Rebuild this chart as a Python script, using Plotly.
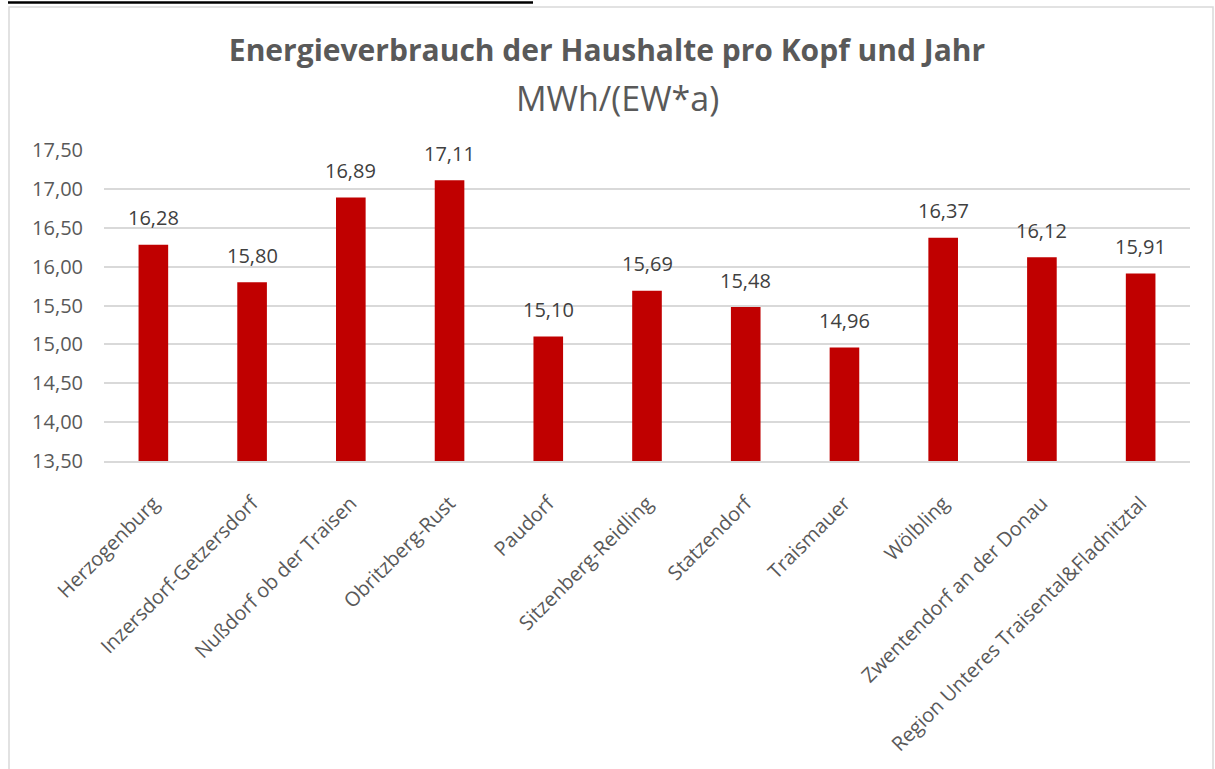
import plotly.graph_objects as go

# data
gemeinden = [
    "Herzogenburg", "Inzersdorf-Getzersdorf", "Nußdorf ob der Traisen",
    "Obritzberg-Rust", "Paudorf", "Sitzenberg-Reidling", "Statzendorf",
    "Traismauer", "Wölbling", "Zwentendorf an der Donau",
    "Region Unteres Traisental&Fladnitztal",
]
verbrauch = [16.28, 15.80, 16.89, 17.11, 15.10, 15.69, 15.48, 14.96, 16.37, 16.12, 15.91]
y_ticks = [13.5, 14.0, 14.5, 15.0, 15.5, 16.0, 16.5, 17.0, 17.5]

RED = "#C00000"
GRID = "#D9D9D9"
TXT = "#595959"
FONT = "Open Sans, sans-serif"

W, H = 1215, 769
L, R, T, B = 104, 1190, 150, 461  # plot area in px


def px_x(x):
    return (x - L) / (R - L)


def px_y(y):
    return (B - y) / (B - T)


labels = [f"{v:.2f}".replace(".", ",") for v in verbrauch]

fig = go.Figure(go.Bar(
    x=gemeinden, y=verbrauch,
    marker_color=RED, marker_line=dict(width=0),
))

for g, v, t in zip(gemeinden, verbrauch, labels):
    fig.add_annotation(x=g, y=v, text=t, showarrow=False,
                       yanchor="middle", yshift=27,
                       font=dict(size=20, color="#404040", family=FONT))

fig.add_annotation(
    text="MWh/(EW*a)", xref="paper", yref="paper",
    x=px_x(617), y=px_y(98), xanchor="center", yanchor="middle",
    showarrow=False, font=dict(size=34, color=TXT, family=FONT),
)

fig.update_layout(
    width=W, height=H,
    paper_bgcolor="white", plot_bgcolor="white",
    font=dict(family=FONT, color=TXT),
    margin=dict(l=L, r=W - R, t=T, b=H - B),
    separators=",.",
    bargap=0.7,
    showlegend=False,
    title=dict(
        text="<b>Energieverbrauch der Haushalte pro Kopf und Jahr</b>",
        x=607 / W, xanchor="center", y=1 - 50 / H, yanchor="middle",
        font=dict(size=30, color=TXT, family=FONT),
    ),
    shapes=[
        # chart border
        dict(type="rect", xref="paper", yref="paper",
             x0=px_x(9), x1=px_x(1213), y0=px_y(800), y1=px_y(7),
             line=dict(color=GRID, width=1.5), layer="below"),
        # cut-off underline of the text above the chart
        dict(type="line", xref="paper", yref="paper",
             x0=px_x(8), x1=px_x(533), y0=px_y(2.5), y1=px_y(2.5),
             line=dict(color="black", width=2.5)),
    ],
    xaxis=dict(
        tickangle=-45, tickfont=dict(size=20, color=TXT),
        showline=True, linecolor=GRID, linewidth=1.5,
        showgrid=False, ticks="", ticklabelstandoff=21,
    ),
    yaxis=dict(
        range=[13.5, 17.5], tickvals=y_ticks, tickformat=".2f",
        tickfont=dict(size=20, color=TXT),
        gridcolor=GRID, gridwidth=1.5, zeroline=False,
        showline=False, ticks="", ticklabelstandoff=20,
    ),
)

fig.write_html("out.html", config={"displayModeBar": False},
               post_script="document.body.style.margin = '0';")
